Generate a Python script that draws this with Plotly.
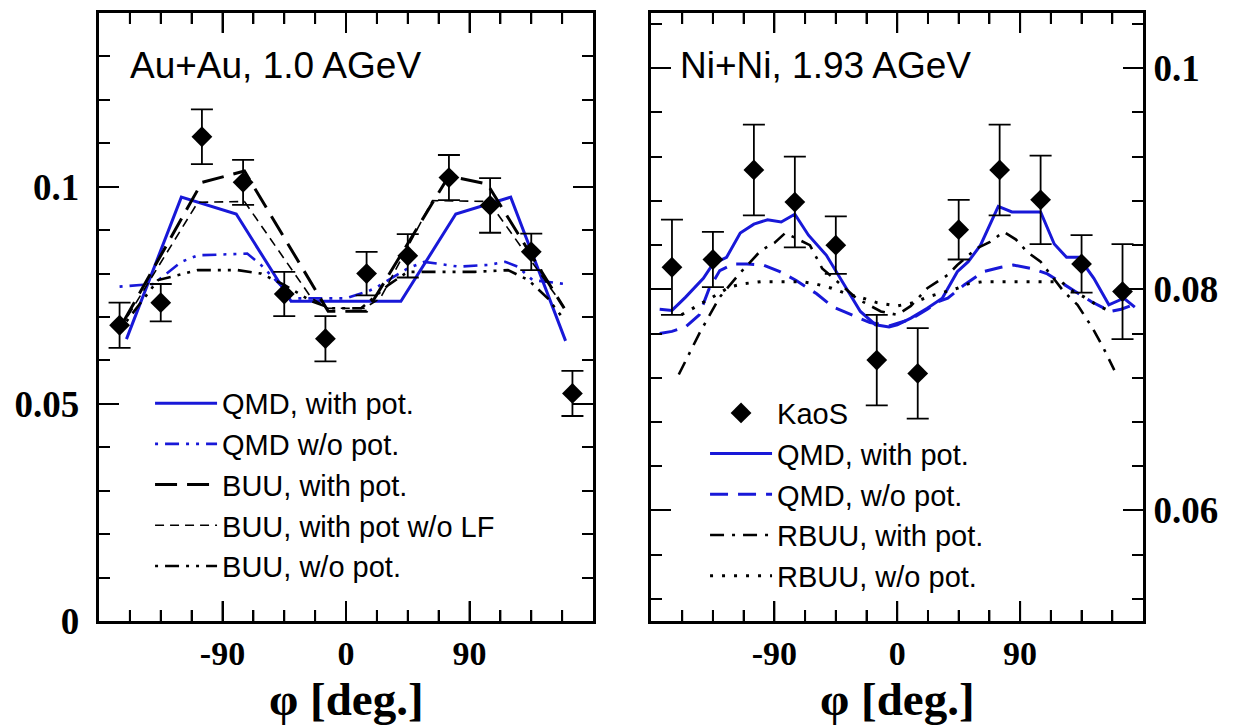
import plotly.graph_objects as go

# ---------------- data ----------------
# KaoS measurement bins (azimuthal angle, degrees)
phi_kaos = [-165, -135, -105, -75, -45, -15, 15, 45, 75, 105, 135, 165]

# Au+Au, 1.0 AGeV
auau_kaos = [0.0681, 0.0733, 0.1115, 0.1010, 0.0753, 0.0650, 0.0800, 0.0841, 0.1021, 0.0957, 0.0850, 0.0524]
auau_err = [0.0052, 0.0043, 0.0063, 0.0052, 0.0051, 0.0052, 0.0050, 0.0050, 0.0052, 0.0063, 0.0042, 0.0052]

auau_qmd_pot_phi = [-160, -120, -80, -40, 0, 40, 80, 120, 160]
auau_qmd_pot = [0.0649, 0.0976, 0.0937, 0.0736, 0.0736, 0.0736, 0.0937, 0.0976, 0.0645]

auau_qmd_nopot_phi = [-165, -140, -132, -120, -108, -72, -62, -48, -35, 0, 16, 23, 45, 57, 82, 104, 116, 125, 136, 162]
auau_qmd_nopot = [0.0770, 0.0776, 0.0797, 0.0827, 0.0842, 0.0846, 0.0820, 0.0774, 0.0743, 0.0743,
                  0.0759, 0.0770, 0.0812, 0.0827, 0.0816, 0.0820, 0.0827, 0.0816, 0.0785, 0.0775]

auau_buu_pot_phi = [-162, -105, -74, -13, 15, 75, 103, 159]
auau_buu_pot = [0.0690, 0.1010, 0.1036, 0.0713, 0.0713, 0.1025, 0.1006, 0.0720]

auau_buu_nolf_phi = [-159, -108, -74, -25, -13, 13, 25, 63, 104, 160]
auau_buu_nolf = [0.0702, 0.0964, 0.0966, 0.0743, 0.0720, 0.0720, 0.0743, 0.0968, 0.0966, 0.0718]

auau_buu_nopot_phi = [-160, -137, -108, -79, -62, -45, -25, -11, 11, 31, 45, 94, 118, 133, 147, 158]
auau_buu_nopot = [0.0690, 0.0785, 0.0808, 0.0808, 0.0800, 0.0774, 0.0736, 0.0720, 0.0720, 0.0774,
                  0.0804, 0.0804, 0.0808, 0.0785, 0.0743, 0.0698]

# Ni+Ni, 1.93 AGeV
nini_kaos = [0.0820, 0.0827, 0.0908, 0.0879, 0.0840, 0.0736, 0.0724, 0.0854, 0.0908, 0.0881, 0.0823, 0.0798]
nini_err = [0.0043, 0.0025, 0.0041, 0.0041, 0.0026, 0.0041, 0.0041, 0.0027, 0.0041, 0.0040, 0.0026, 0.0043]

nini_qmd_pot_phi = [-174, -165, -155, -142, -135, -125, -115, -105, -95, -85, -75, -65, -52, -37, -27, -16, -6,
                    0, 10, 22, 33, 44, 52, 61, 74, 84, 105, 115, 124, 133, 144, 155, 166, 174]
nini_qmd_pot = [0.0782, 0.0781, 0.0793, 0.0810, 0.0823, 0.0829, 0.0851, 0.0859, 0.0863, 0.0861, 0.0868, 0.0849,
                0.0831, 0.0801, 0.0780, 0.0768, 0.0766, 0.0768, 0.0774, 0.0783, 0.0792, 0.0816, 0.0825, 0.0840,
                0.0875, 0.0870, 0.0870, 0.0841, 0.0829, 0.0829, 0.0810, 0.0786, 0.0792, 0.0784]

nini_qmd_nopot_phi = [-174, -165, -155, -145, -138, -130, -120, -110, -98, -86, -74, -59, -47, -35, -20, -6,
                      10, 22, 30, 37, 49, 63, 76, 85, 98, 110, 127, 142, 156, 164, 175]
nini_qmd_nopot = [0.0760, 0.0762, 0.0766, 0.0777, 0.0800, 0.0817, 0.0823, 0.0823, 0.0822, 0.0816, 0.0808,
                  0.0796, 0.0784, 0.0778, 0.0770, 0.0767, 0.0773, 0.0782, 0.0789, 0.0792, 0.0804, 0.0816,
                  0.0820, 0.0822, 0.0819, 0.0814, 0.0801, 0.0789, 0.0780, 0.0782, 0.0787]

nini_rbuu_pot_phi = [-160, -145, -130, -115, -100, -90, -82, -74, -64, -55, -42, -30, -12, 0, 10, 22, 37, 44,
                     58, 68, 78, 87, 95, 105, 122, 132, 143, 151, 159]
nini_rbuu_pot = [0.0723, 0.0760, 0.0793, 0.0815, 0.0835, 0.0842, 0.0851, 0.0846, 0.0840, 0.0819, 0.0805,
                 0.0792, 0.0780, 0.0777, 0.0785, 0.0801, 0.0813, 0.0822, 0.0837, 0.0843, 0.0852, 0.0845,
                 0.0834, 0.0825, 0.0798, 0.0786, 0.0765, 0.0747, 0.0727]

nini_rbuu_nopot_phi = [-158, -150, -141, -131, -123, -113, -100, -70, -60, -48, -37, -25, -15, 0, 12, 22, 33,
                       44, 52, 63, 120, 129, 137, 146, 156]
nini_rbuu_nopot = [0.0777, 0.0783, 0.0789, 0.0796, 0.0802, 0.0805, 0.0807, 0.0807, 0.0805, 0.0801, 0.0796,
                   0.0792, 0.0788, 0.0785, 0.0788, 0.0793, 0.0797, 0.0801, 0.0805, 0.0807, 0.0807, 0.0798,
                   0.0793, 0.0786, 0.0780]

# axis ticks
phi_major = [-90, 0, 90]
phi_major_text = ["-90", "0", "90"]
phi_minor = [k * 22.5 for k in range(-7, 8) if k % 4 != 0]

auau_major = [0, 0.05, 0.1]
auau_major_text = ["0 ", "0.05 ", "0.1 "]
auau_minor = [k / 100 for k in range(1, 14) if k % 5 != 0]

nini_major = [0.06, 0.08, 0.1]
nini_major_text = ["0.06", "0.08", "0.1"]
nini_minor = [round(0.052 + 0.004 * k, 3) for k in range(14) if k % 5 != 2]

# ---------------- styling ----------------
BLUE = "#1818d8"
BLACK = "#000000"
SANS = "Liberation Sans, Arial, sans-serif"
SERIF = "Liberation Serif, Times New Roman, serif"
PHI_RANGE = [-180, 180]
PLOT_HEIGHT_PX = 611
MAJOR_LEN_PX, MINOR_LEN_PX = 20, 11

fig = go.Figure()


def add_line(x, y, name, color, width, dash, xa, ya, legend, rank):
    fig.add_trace(go.Scatter(
        x=x, y=y, name=name, mode="lines",
        line=dict(color=color, width=width, dash=dash),
        xaxis=xa, yaxis=ya, legend=legend, legendrank=rank,
    ))


# left panel: Au+Au
add_line(auau_qmd_pot_phi, auau_qmd_pot, "QMD, with pot.", BLUE, 3, "solid", "x", "y", "legend", 1)
add_line(auau_qmd_nopot_phi, auau_qmd_nopot, "QMD w/o pot.", BLUE, 2.6, "3px,7px,14px,7px,3px,7px", "x", "y", "legend", 2)
add_line(auau_buu_pot_phi, auau_buu_pot, "BUU, with pot.", BLACK, 3, "22px,10px", "x", "y", "legend", 3)
add_line(auau_buu_nolf_phi, auau_buu_nolf, "BUU, with pot w/o LF", BLACK, 1.6, "9px,6px", "x", "y", "legend", 4)
add_line(auau_buu_nopot_phi, auau_buu_nopot, "BUU, w/o pot.", BLACK, 2.6, "3px,7px,14px,7px,3px,7px", "x", "y", "legend", 5)

fig.add_trace(go.Scatter(
    x=phi_kaos, y=auau_kaos, mode="markers", name="KaoS", showlegend=False,
    marker=dict(symbol="diamond", size=16, color=BLACK, line=dict(width=0)),
    error_y=dict(type="data", array=auau_err, visible=True, color=BLACK, thickness=1.8, width=11),
    xaxis="x", yaxis="y",
))

# right panel: Ni+Ni
add_line(nini_qmd_pot_phi, nini_qmd_pot, "QMD, with pot.", BLUE, 3, "solid", "x2", "y2", "legend2", 2)
add_line(nini_qmd_nopot_phi, nini_qmd_nopot, "QMD, w/o pot.", BLUE, 3, "18px,10px", "x2", "y2", "legend2", 3)
add_line(nini_rbuu_pot_phi, nini_rbuu_pot, "RBUU, with pot.", BLACK, 2.6, "14px,8px,3px,8px", "x2", "y2", "legend2", 4)
add_line(nini_rbuu_nopot_phi, nini_rbuu_nopot, "RBUU, w/o pot.", BLACK, 3, "3px,9px", "x2", "y2", "legend2", 5)

fig.add_trace(go.Scatter(
    x=phi_kaos, y=nini_kaos, mode="markers", name="KaoS",
    marker=dict(symbol="diamond", size=16, color=BLACK, line=dict(width=0)),
    error_y=dict(type="data", array=nini_err, visible=True, color=BLACK, thickness=1.8, width=11),
    xaxis="x2", yaxis="y2", legend="legend2", legendrank=1,
))


# ---------------- axes ----------------
def frame():
    return dict(showline=True, linewidth=3, linecolor=BLACK, mirror="ticks",
                ticks="inside", ticklen=MAJOR_LEN_PX, tickwidth=2, tickcolor=BLACK,
                showgrid=False, zeroline=False)


def minor_ticks(vals):
    return dict(ticks="inside", ticklen=MINOR_LEN_PX, tickwidth=2, tickcolor=BLACK,
                tickmode="array", tickvals=vals, showgrid=False)


def phi_axis(domain, anchor):
    ax = frame()
    ax.update(range=PHI_RANGE, tickmode="array", tickvals=phi_major, ticktext=phi_major_text,
              tickfont=dict(family=SERIF, size=34, color=BLACK, weight="bold"),
              minor=minor_ticks(phi_minor), domain=domain, anchor=anchor)
    return ax


def phi_tick_marks(xref, yref):
    # inward tick marks along the bottom and top edges of a panel's frame
    marks = []
    for vals, length_px in [(phi_major, MAJOR_LEN_PX), (phi_minor, MINOR_LEN_PX)]:
        frac = length_px / PLOT_HEIGHT_PX
        for v in vals:
            for y0, y1 in [(0, frac), (1 - frac, 1)]:
                marks.append(dict(type="line", xref=xref, yref=yref, x0=v, x1=v, y0=y0, y1=y1,
                                  line=dict(color=BLACK, width=2), layer="above"))
    return marks


yaxis_left = frame()
yaxis_left.update(range=[0, 0.14], tickmode="array", tickvals=auau_major, ticktext=auau_major_text,
                  tickfont=dict(family=SERIF, size=37, color=BLACK, weight="bold"),
                  minor=minor_ticks(auau_minor), anchor="x", domain=[0, 1])

yaxis_right = frame()
yaxis_right.update(range=[0.05, 0.105], side="right", tickmode="array", tickvals=nini_major,
                   ticktext=nini_major_text,
                   tickfont=dict(family=SERIF, size=37, color=BLACK, weight="bold"),
                   minor=minor_ticks(nini_minor), anchor="x2", domain=[0, 1])

axis_title_font = dict(family=SERIF, size=47, color=BLACK, weight="bold")

fig.update_layout(
    width=1255, height=726,
    margin=dict(l=99, r=112, t=10, b=105),
    paper_bgcolor="white", plot_bgcolor="white",
    xaxis=phi_axis([0, 0.4732], "y"),
    xaxis2=phi_axis([0.5292, 1], "y2"),
    yaxis=yaxis_left,
    yaxis2=yaxis_right,
    shapes=phi_tick_marks("x", "y domain") + phi_tick_marks("x2", "y2 domain"),
    legend=dict(x=0.0489, y=0.40, xanchor="left", yanchor="top", bgcolor="rgba(0,0,0,0)",
                font=dict(family=SANS, size=29, color=BLACK), itemwidth=62, traceorder="normal"),
    legend2=dict(x=0.5805, y=0.384, xanchor="left", yanchor="top", bgcolor="rgba(0,0,0,0)",
                 font=dict(family=SANS, size=29, color=BLACK), itemwidth=62, traceorder="normal"),
    annotations=[
        dict(text="Au+Au, 1.0 AGeV", xref="x domain", yref="y domain", x=0.059, y=0.913,
             xanchor="left", yanchor="middle", showarrow=False,
             font=dict(family=SANS, size=37, color=BLACK)),
        dict(text="Ni+Ni, 1.93 AGeV", xref="x2 domain", yref="y2 domain", x=0.054, y=0.913,
             xanchor="left", yanchor="middle", showarrow=False,
             font=dict(family=SANS, size=37, color=BLACK)),
        dict(text="φ [deg.]", xref="x domain", yref="paper", x=0.5, y=-0.129,
             xanchor="center", yanchor="middle", showarrow=False, font=axis_title_font),
        dict(text="φ [deg.]", xref="x2 domain", yref="paper", x=0.5, y=-0.129,
             xanchor="center", yanchor="middle", showarrow=False, font=axis_title_font),
    ],
)

fig.write_html("out.html")
